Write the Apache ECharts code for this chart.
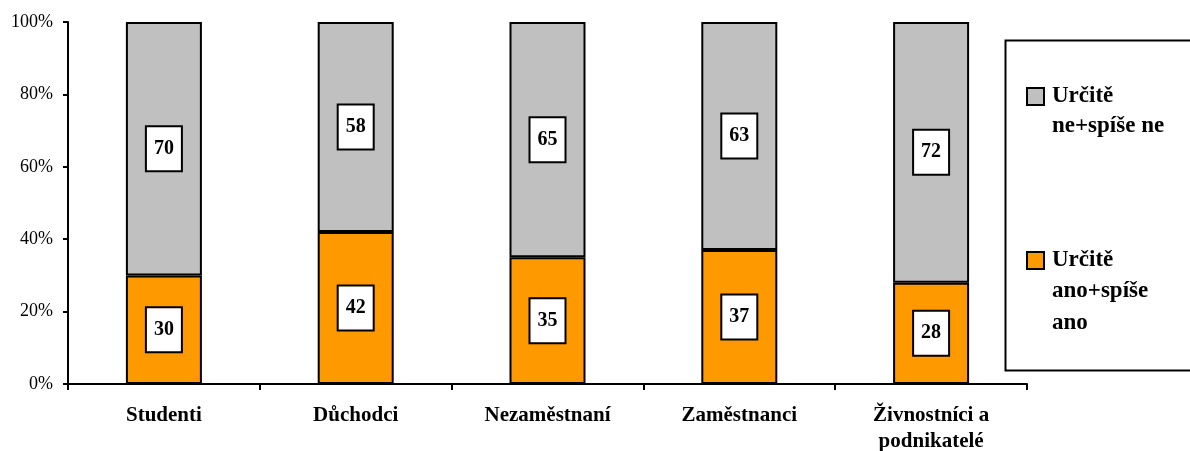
<!DOCTYPE html>
<html>
<head>
<meta charset="utf-8">
<script src="https://cdn.jsdelivr.net/npm/echarts@6/dist/echarts.min.js"></script>
<style>
  html, body { margin: 0; padding: 0; background: #fff; }
  #chart { width: 1190px; height: 451px; }
</style>
</head>
<body>
<div id="chart"></div>
<script>
var categories = ['Studenti', 'Důchodci', 'Nezaměstnaní', 'Zaměstnanci', 'Živnostníci a\npodnikatelé'];
var anoValues = [30, 42, 35, 37, 28];
var neValues = [70, 58, 65, 63, 72];
var yTicks = [0, 20, 40, 60, 80, 100];

var font = '"Liberation Serif", "Times New Roman", serif';

var chart = echarts.init(document.getElementById('chart'));

// popisek hodnoty v bílém rámečku
var boxLabel = {
  show: true,
  position: 'inside',
  fontFamily: font,
  fontWeight: 'bold',
  fontSize: 20,
  color: '#000',
  backgroundColor: '#fff',
  borderColor: '#000',
  borderWidth: 2,
  padding: [12, 7, 11, 7]
};

var legendBase = {
  orient: 'vertical',
  left: 1021,
  icon: 'rect',
  itemWidth: 17,
  itemHeight: 17,
  itemGap: 10,
  selectedMode: false,
  textStyle: { fontFamily: font, fontWeight: 'bold', fontSize: 23, color: '#000', padding: [0, 0, 0, 3] },
  formatter: function () { return 'Určitě'; }
};

chart.setOption({
  animation: false,
  grid: { left: 68, right: 163, top: 22, bottom: 67, outerBoundsMode: 'none', containLabel: false },
  legend: [
    Object.assign({}, legendBase, { top: 80, data: [{ name: 'Určitě ne+spíše ne', itemStyle: { borderColor: '#000', borderWidth: 2 } }] }),
    Object.assign({}, legendBase, { top: 244, data: [{ name: 'Určitě ano+spíše ano', itemStyle: { borderColor: '#000', borderWidth: 2 } }] })
  ],
  graphic: [
    { type: 'rect', left: 1003, top: 38, shape: { width: 200, height: 330 }, style: { fill: 'none', stroke: '#000', lineWidth: 2 }, z: -1 },
    { type: 'text', left: 1052, top: 115, style: { text: 'ne+spíše ne', font: 'bold 23px ' + font, fill: '#000' } },
    { type: 'text', left: 1052, top: 280, style: { text: 'ano+spíše', font: 'bold 23px ' + font, fill: '#000' } },
    { type: 'text', left: 1052, top: 312, style: { text: 'ano', font: 'bold 23px ' + font, fill: '#000' } }
  ],
  xAxis: {
    type: 'category',
    data: categories,
    axisLine: { lineStyle: { color: '#000', width: 2 } },
    axisTick: { show: true, alignWithLabel: false, length: 6, lineStyle: { color: '#000', width: 2 } },
    axisLabel: { fontFamily: font, fontWeight: 'bold', fontSize: 21, color: '#000', margin: 19, lineHeight: 26 }
  },
  yAxis: {
    type: 'value',
    min: yTicks[0],
    max: yTicks[yTicks.length - 1],
    interval: 20,
    axisLine: { show: true, lineStyle: { color: '#000', width: 2 } },
    axisTick: { show: true, length: 5, lineStyle: { color: '#000', width: 2 } },
    splitLine: { show: false },
    axisLabel: { fontFamily: font, fontSize: 18, color: '#000', margin: 15, formatter: '{value}%' }
  },
  series: [
    {
      name: 'Určitě ano+spíše ano',
      type: 'bar',
      stack: 'total',
      barWidth: 76,
      data: anoValues,
      itemStyle: { color: '#FF9900', borderColor: '#000', borderWidth: 2 },
      label: boxLabel
    },
    {
      name: 'Určitě ne+spíše ne',
      type: 'bar',
      stack: 'total',
      barWidth: 76,
      data: neValues,
      itemStyle: { color: '#C0C0C0', borderColor: '#000', borderWidth: 2 },
      label: boxLabel
    }
  ]
});
</script>
</body>
</html>
